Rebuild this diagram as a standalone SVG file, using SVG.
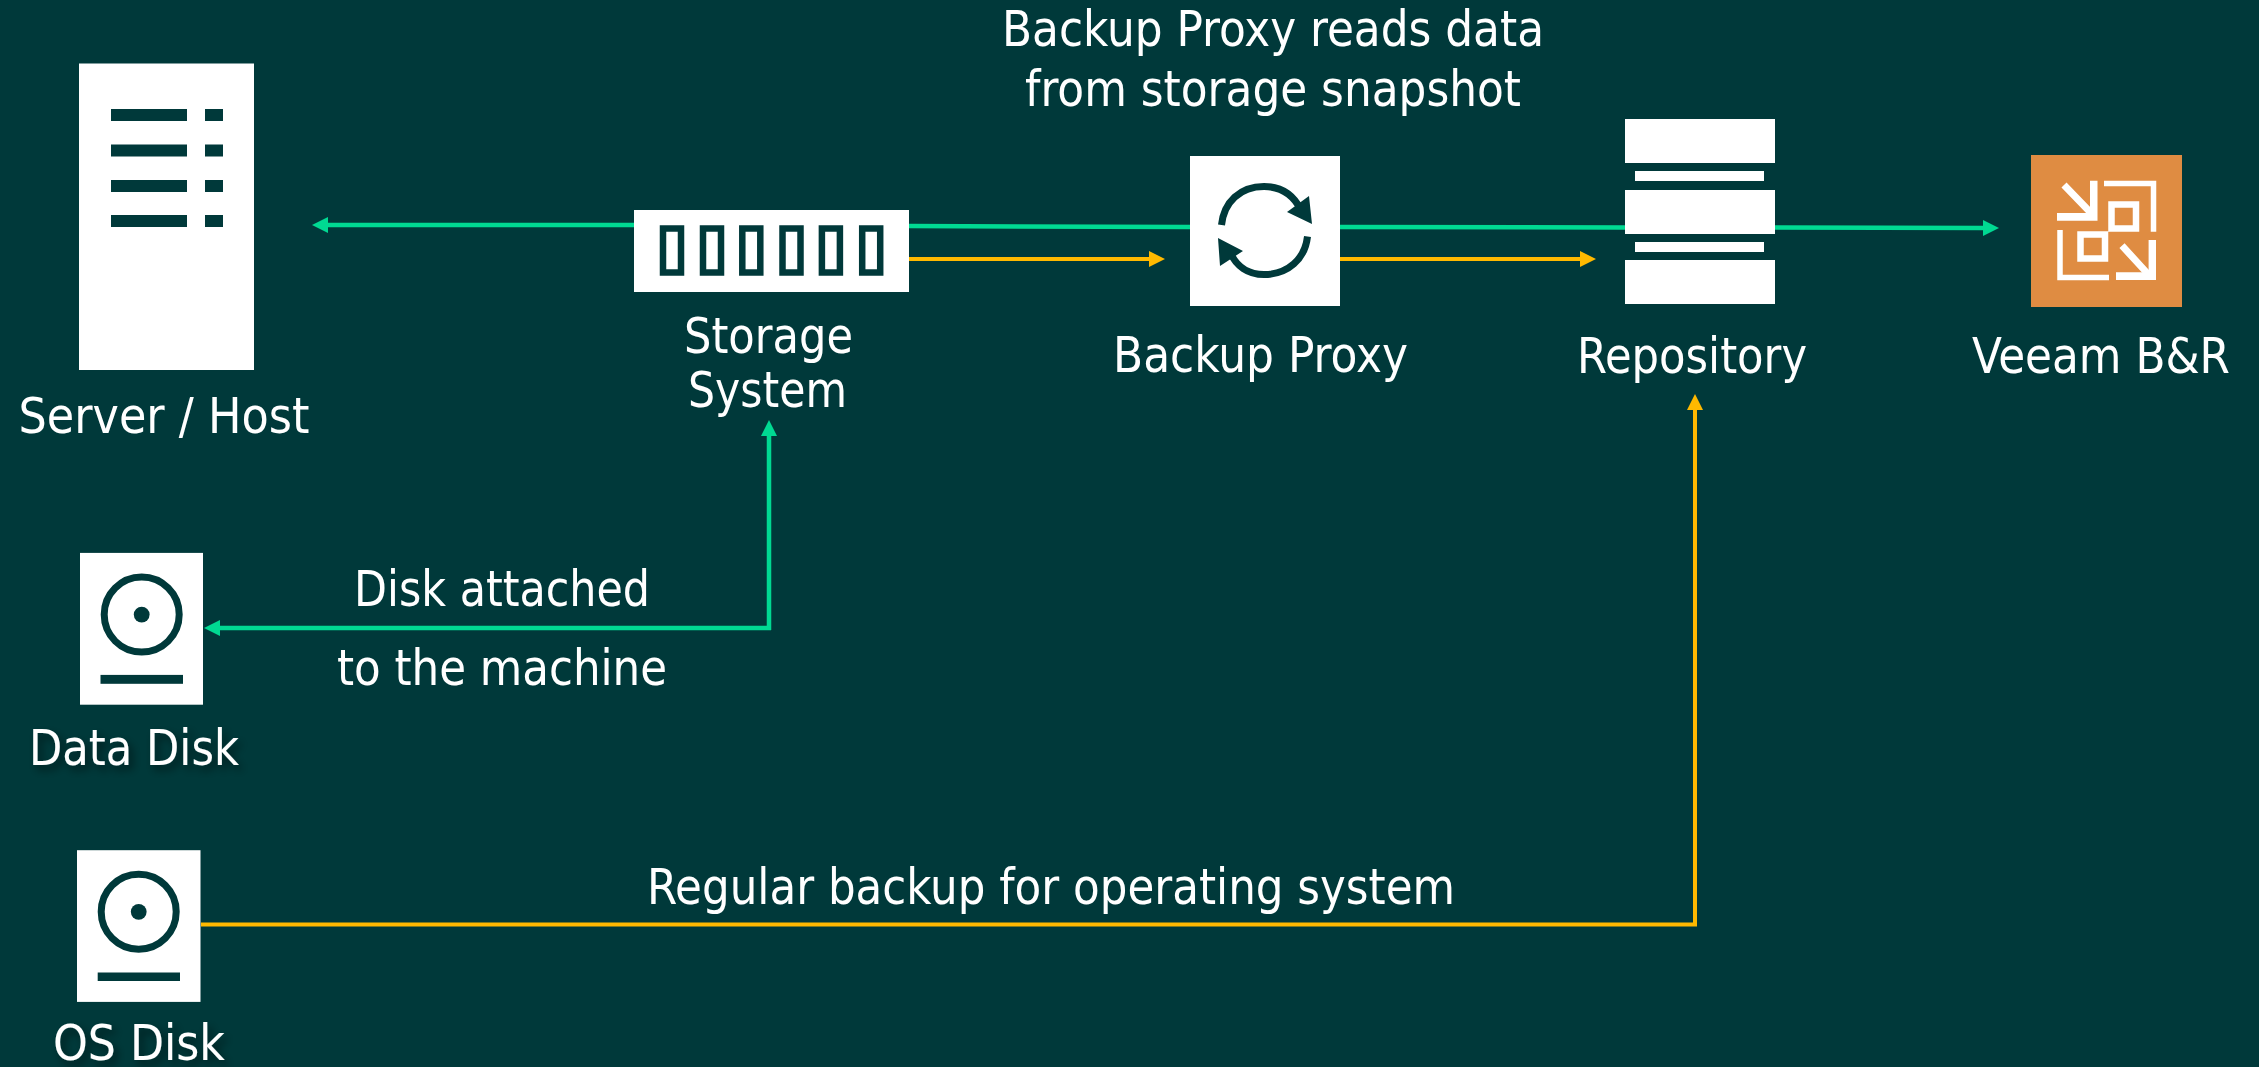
<svg xmlns="http://www.w3.org/2000/svg" width="2259" height="1067" viewBox="0 0 2259 1067">
<style>
.w{fill:#fff}
.d{fill:#00393a}
.o{fill:none;stroke:#00393a}
.g{fill:none;stroke:#00d992;stroke-width:4.500}
.y{fill:none;stroke:#ffb900;stroke-width:4}
text{font-family:"DejaVu Sans Condensed","DejaVu Sans",sans-serif;font-size:49px;fill:#fff;text-anchor:middle}
.s{filter:url(#sh)}
.wl{fill:none;stroke:#fff}
</style>
<defs>
<marker id="ag" markerUnits="userSpaceOnUse" markerWidth="16" markerHeight="16" refX="1" refY="8" orient="auto"><path d="M0 0L16 8L0 16z" fill="#00d992"/></marker>
<marker id="ay" markerUnits="userSpaceOnUse" markerWidth="16" markerHeight="16" refX="1" refY="8" orient="auto"><path d="M0 0L16 8L0 16z" fill="#ffb900"/></marker>
<filter id="sh" x="-10%" y="-20%" width="125%" height="150%"><feDropShadow dx="4" dy="5" stdDeviation="4" flood-color="#000" flood-opacity=".5"/></filter>
</defs>
<rect width="2259" height="1067" fill="#00393a"/>
<g id="connectors">
<path class="g" d="M634 225H327" marker-end="url(#ag)"/>
<path class="g" d="M909 226L1190 227M1340 227L1625 227.500M1775 227.500L1984 228" marker-end="url(#ag)"/>
<path class="y" d="M909 259H1150" marker-end="url(#ay)"/>
<path class="y" d="M1340 259H1581" marker-end="url(#ay)"/>
<path class="g" d="M769 630V435" marker-end="url(#ag)"/>
<path class="g" d="M771 628H219" marker-end="url(#ag)"/>
<path class="y" d="M201 924.500H1695V409" marker-end="url(#ay)"/>
</g>
<g id="server">
<rect class="w" x="79" y="63.500" width="175" height="306.500"/>
<path class="d" d="M111 109h76v12h-76zM205 109h18v12h-18zM111 144.500h76v12h-76zM205 144.500h18v12h-18zM111 180h76v12h-76zM205 180h18v12h-18zM111 215h76v12h-76zM205 215h18v12h-18z"/>
<text x="164" y="433" textLength="291" lengthAdjust="spacingAndGlyphs">Server / Host</text>
</g>
<g id="storage">
<rect class="w" x="634" y="210" width="275" height="82"/>
<g class="o" stroke-width="6.500"><rect x="663" y="228.500" width="18" height="44"/><rect x="703" y="228.500" width="18" height="44"/><rect x="742.300" y="228.500" width="18" height="44"/><rect x="782.500" y="228.500" width="18" height="44"/><rect x="821.900" y="228.500" width="18" height="44"/><rect x="862.200" y="228.500" width="18" height="44"/></g>
<text x="768.500" y="353" textLength="169" lengthAdjust="spacingAndGlyphs">Storage</text>
<text x="767.500" y="407" textLength="159" lengthAdjust="spacingAndGlyphs">System</text>
</g>
<g id="proxy">
<rect class="w" x="1190" y="156" width="150" height="150"/>
<path class="o" stroke-width="7" d="M1221.500 225C1224 202 1240 186.500 1264 186.500C1282 186.500 1294 196 1301 210M1307.500 236.500C1305 259 1288 274.500 1264 274.500C1248 274.500 1236 266 1230 252"/>
<path class="d" d="M1309 196L1287 212L1312 224zM1218 238L1243 251L1220 266z"/>
<text x="1260.500" y="372" textLength="295" lengthAdjust="spacingAndGlyphs">Backup Proxy</text>
</g>
<g id="repository">
<path class="w" d="M1625 119h150v44h-150zM1635 171h129v10h-129zM1625 190h150v44h-150zM1635 242h129v10h-129zM1625 260h150v44h-150z"/>
<text x="1692" y="372.500" textLength="230" lengthAdjust="spacingAndGlyphs">Repository</text>
</g>
<g id="veeam">
<rect x="2031" y="155" width="151" height="152" fill="#df8c42"/>
<path class="wl" stroke-width="5.500" d="M2104 183.500H2153.500V231.700M2060 230V277.500H2109"/>
<path class="wl" stroke-width="6.500" d="M2111.500 204.500h24.500v24h-24.500zM2080.500 234.500h24.500v24h-24.500z"/>
<path class="w" d="M2090 180.700h7.500v40h-40.500v-7.700h33zM2148.600 240h7.400v40h-40v-7.700h32.600z"/>
<path class="wl" stroke-width="7" d="M2064 185L2091 213M2122 245.700L2148 274"/>
<text x="2101" y="372.500" textLength="258" lengthAdjust="spacingAndGlyphs">Veeam B&amp;R</text>
</g>
<g id="data-disk">
<rect class="w" x="80" y="552.900" width="123" height="151.800"/>
<circle class="o" cx="141.700" cy="614.600" r="37.500" stroke-width="7"/>
<circle class="d" cx="141.700" cy="614.600" r="7.900"/>
<rect class="d" x="100.500" y="674.900" width="82.500" height="8.900"/>
<text class="s" x="134" y="765" textLength="210" lengthAdjust="spacingAndGlyphs">Data Disk</text>
</g>
<g id="os-disk">
<rect class="w" x="77" y="850.200" width="123.500" height="151.700"/>
<circle class="o" cx="138.700" cy="911.800" r="37.500" stroke-width="7"/>
<circle class="d" cx="138.700" cy="911.800" r="7.900"/>
<rect class="d" x="97.700" y="972.500" width="82.300" height="8.500"/>
<text class="s" x="139" y="1060" textLength="172" lengthAdjust="spacingAndGlyphs">OS Disk</text>
</g>
<g id="labels">
<text x="1273" y="46" textLength="542" lengthAdjust="spacingAndGlyphs">Backup Proxy reads data</text>
<text x="1273" y="106" textLength="496" lengthAdjust="spacingAndGlyphs">from storage snapshot</text>
<text x="502" y="606" textLength="296" lengthAdjust="spacingAndGlyphs">Disk attached</text>
<text x="502" y="685" textLength="330" lengthAdjust="spacingAndGlyphs">to the machine</text>
<text x="1051" y="904" textLength="808" lengthAdjust="spacingAndGlyphs">Regular backup for operating system</text>
</g>
</svg>
